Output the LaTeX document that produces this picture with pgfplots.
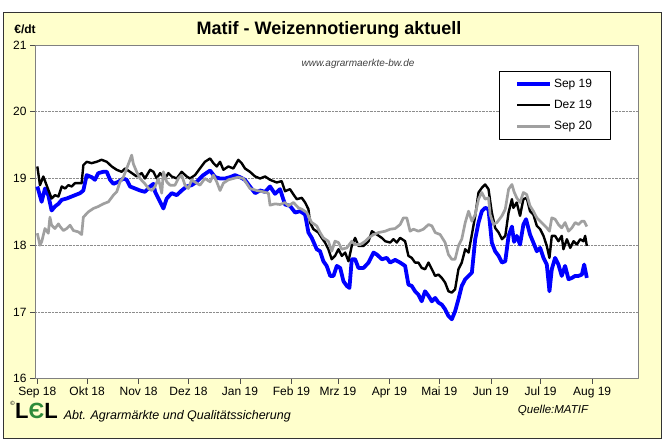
\documentclass[border=0pt]{standalone}
\usepackage{pgfplots}
\pgfplotsset{compat=1.18}
\usepackage{fontspec}
\setmainfont{Liberation Sans}
\definecolor{bgyellow}{HTML}{FFFFCC}
\definecolor{serblue}{HTML}{0000FF}
\definecolor{sergray}{HTML}{A0A0A0}
\definecolor{lelgreen}{HTML}{2E8B3A}

\begin{document}
\begin{tikzpicture}[x=1pt,y=1pt]
% page and chart frame
\fill[white] (-35,-50.3) rectangle (630,378.7);
\filldraw[fill=bgyellow, draw=black!80, line width=1pt] (-31,-60) rectangle (626,366);

\begin{axis}[
    at={(0,0)}, anchor=south west,
    scale only axis,
    width=603pt,
    height=333.7pt,
    xmin=-1.4, xmax=361.6,
    ymin=16, ymax=21,
    axis background/.style={fill=white},
    axis line style={black!50},
    xtick={0,30,61,91,122,153,181,212,242,273,303,334},
    xticklabels={Sep 18, Okt 18, Nov 18, Dez 18, Jan 19, Feb 19, Mrz 19,
        Apr 19, Mai 19, Jun 19, Jul 19, Aug 19},
    ytick={16,17,18,19,20,21},
    xtick pos=bottom, ytick pos=left,
    tick align=outside,
    major tick length=5pt,
    tick style={black!70, line width=0.6pt},
    ymajorgrids,
    grid style={densely dotted, black!45, line width=0.6pt},
    tick label style={font=\fontsize{12}{14}\selectfont},
    /pgf/number format/assume math mode=true,
    legend style={at={(0.7695,0.922)}, anchor=north west, draw=black, fill=white,
        font=\fontsize{12}{14}\selectfont, inner xsep=16pt, inner ysep=5pt,
        row sep=5pt, nodes={inner sep=2pt, text height=9pt, text depth=3pt}},
    legend cell align=left,
    legend image code/.code={\draw[#1] (0pt,0pt) -- (33pt,0pt);},
    line join=round,
]

% Sep 19
\addplot[color=serblue, line width=3.8pt] coordinates {
(0,18.88) (2.6,18.65) (4.6,18.85) (6.6,18.75) (8.6,18.52) (10.6,18.58)
(12.7,18.62) (14.7,18.68) (17.7,18.70) (19.7,18.72) (22.7,18.75) (25.7,18.78)
(27.7,18.82) (29.7,19.05) (32.7,19.02) (34.7,18.98) (36.7,19.08) (39.7,19.10)
(41.8,19.10) (43.8,18.98) (45.8,18.92) (48.8,18.95) (51.8,19.00) (53.8,18.98)
(55.8,18.88) (58.8,18.85) (61.8,18.82) (64.8,18.80) (67.9,18.88) (69.9,18.92)
(70.9,18.80) (73.9,18.65) (75.9,18.55) (77.9,18.70) (80.9,18.78) (83.9,18.75)
(86.9,18.82) (89.9,18.88) (92.9,18.90) (95.9,18.95) (99.9,19.05) (104.0,19.12)
(107.0,19.02) (110.0,19.00) (113.0,19.00) (116.0,19.02) (119.0,19.05) (122.0,19.02)
(125.0,18.98) (128.0,18.88) (131.1,18.78) (134.1,18.82) (137.1,18.80) (140.1,18.88)
(143.1,18.77) (146.1,18.84) (149.1,18.61) (152.1,18.59) (155.2,18.49) (158.2,18.51)
(161.2,18.46) (163.2,18.19) (165.2,18.11) (168.2,17.94) (170.2,17.91) (172.2,17.76)
(174.2,17.69) (176.3,17.54) (178.3,17.54) (180.3,17.69) (182.3,17.66) (184.3,17.46)
(186.3,17.39) (187.9,17.36) (189.3,17.79) (191.3,17.79) (193.3,17.66) (196.4,17.66)
(199.4,17.74) (202.4,17.89) (204.4,17.86) (207.4,17.79) (210.4,17.81) (212.4,17.74)
(215.4,17.78) (218.4,17.74) (221.4,17.69) (223.4,17.41) (225.4,17.39) (227.4,17.31)
(229.4,17.26) (231.4,17.16) (233.4,17.31) (235.5,17.24) (237.5,17.16) (239.5,17.21)
(241.5,17.14) (243.5,17.11) (245.5,17.04) (247.5,16.94) (249.5,16.89) (251.5,17.01)
(253.5,17.19) (255.5,17.39) (257.6,17.49) (259.6,17.54) (261.6,17.59) (263.6,18.09)
(265.6,18.34) (267.6,18.51) (269.6,18.56) (271.6,18.54) (273.6,18.04) (275.6,17.91)
(277.7,17.84) (279.7,17.74) (281.7,17.76) (283.7,18.14) (285.7,18.28) (287.0,18.05)
(288.6,18.14) (290.6,18.01) (292.6,18.31) (294.2,18.39) (296.6,18.16) (298.6,18.04)
(300.7,17.91) (302.7,17.96) (304.7,17.81) (306.7,17.71) (308.3,17.31) (309.7,17.64)
(311.7,17.81) (313.7,17.71) (315.7,17.54) (317.7,17.69) (319.8,17.49) (321.8,17.51)
(323.8,17.54) (325.8,17.54) (327.8,17.56) (329.2,17.71) (330.8,17.51)
};

% Dez 19
\addplot[color=black, line width=2.4pt] coordinates {
(0,19.18) (1.6,18.90) (3.6,19.03) (8.6,18.70) (10.6,18.75) (12.7,18.73)
(14.7,18.88) (16.7,18.85) (18.7,18.90) (20.7,18.88) (22.7,18.93) (26.7,18.93)
(27.7,19.20) (29.7,19.25) (32.7,19.23) (35.7,19.25) (38.7,19.28) (41.8,19.25)
(44.8,19.18) (47.8,19.13) (50.8,19.10) (52.8,19.15) (55.8,19.10) (59.8,19.03)
(62.8,19.08) (64.8,19.00) (67.9,19.13) (69.9,19.10) (71.9,19.00) (73.9,19.08)
(76.9,19.00) (78.9,19.08) (80.9,19.03) (83.9,19.00) (86.9,19.10) (89.9,19.03)
(91.9,19.00) (94.9,19.05) (97.9,19.15) (100.9,19.25) (104.0,19.30) (106.0,19.23)
(108.0,19.18) (110.0,19.25) (112.0,19.13) (115.0,19.18) (118.0,19.15) (121.0,19.28)
(123.0,19.23) (125.0,19.15) (128.0,19.10) (131.1,19.03) (134.1,19.00) (137.1,19.03)
(140.1,18.98) (144.1,18.94) (147.1,18.96) (149.1,18.81) (152.1,18.84) (154.2,18.76)
(156.2,18.69) (159.2,18.71) (161.2,18.64) (163.2,18.54) (164.2,18.34) (166.2,18.24)
(169.2,18.19) (171.2,18.11) (173.2,18.04) (175.2,17.94) (177.2,17.79) (179.2,17.84)
(181.3,17.94) (183.3,17.84) (185.3,17.89) (187.3,17.76) (189.3,17.99) (191.3,18.11)
(193.3,17.99) (196.4,17.99) (199.4,18.06) (201.4,18.21) (204.4,18.16) (207.4,18.11)
(209.4,18.06) (212.4,18.04) (214.4,18.09) (216.4,18.04) (218.4,18.11) (221.4,18.06)
(223.4,17.84) (225.4,17.81) (227.4,17.74) (229.4,17.74) (231.4,17.66) (233.4,17.64)
(235.5,17.74) (237.5,17.64) (239.5,17.54) (241.5,17.56) (243.5,17.51) (245.5,17.44)
(247.5,17.31) (249.5,17.29) (251.5,17.34) (253.5,17.64) (255.5,17.74) (257.6,17.94)
(259.6,17.89) (261.6,18.16) (263.6,18.44) (265.6,18.79) (267.6,18.86) (269.6,18.91)
(271.6,18.84) (273.6,18.49) (275.6,18.26) (277.7,18.19) (279.7,18.09) (281.7,18.14)
(283.7,18.49) (285.7,18.69) (286.6,18.56) (288.6,18.64) (290.6,18.44) (292.6,18.69)
(294.6,18.71) (296.6,18.51) (298.6,18.46) (300.7,18.29) (302.7,18.24) (304.7,18.14)
(306.7,17.99) (308.3,17.81) (309.7,18.14) (311.7,18.14) (313.7,18.06) (315.7,18.14)
(316.7,17.94) (318.8,18.09) (320.8,17.96) (322.8,18.06) (324.8,18.01) (326.8,18.09)
(328.8,18.06) (329.8,18.14) (330.8,17.99)
};

% Sep 20
\addplot[color=sergray, line width=2.7pt] coordinates {
(0,18.18) (1.6,18.00) (2.6,18.05) (4.6,18.25) (6.6,18.18) (7.6,18.42)
(8.6,18.30) (10.6,18.25) (12.7,18.32) (13.7,18.28) (15.7,18.22) (17.7,18.25)
(19.7,18.30) (21.7,18.22) (24.7,18.20) (26.7,18.16) (27.7,18.42) (30.7,18.50)
(33.7,18.55) (36.7,18.58) (39.7,18.62) (42.8,18.65) (45.8,18.75) (47.8,18.80)
(49.8,18.95) (51.8,19.02) (53.8,19.15) (55.8,19.28) (56.8,19.35) (57.8,19.22)
(59.8,19.10) (61.8,19.00) (64.8,18.92) (66.9,18.85) (68.9,18.82) (70.9,18.88)
(72.9,19.00) (74.9,18.78) (75.9,19.10) (77.9,18.95) (79.9,18.90) (82.9,18.90)
(84.9,19.00) (86.9,19.05) (88.9,18.90) (90.9,18.85) (92.9,18.98) (95.9,18.93)
(97.9,18.90) (100.9,19.00) (104.0,18.95) (106.0,19.05) (108.0,18.95) (110.0,18.82)
(112.0,18.93) (115.0,18.98) (118.0,19.00) (121.0,19.02) (124.0,19.00) (126.0,18.93)
(128.0,18.85) (132.1,18.82) (136.1,18.80) (139.1,18.78) (140.1,18.60) (143.1,18.62)
(146.1,18.61) (149.1,18.64) (151.1,18.59) (154.2,18.64) (157.2,18.56) (159.2,18.54)
(162.2,18.49) (165.2,18.34) (168.2,18.29) (170.2,18.19) (172.2,18.11) (175.2,18.06)
(177.2,17.91) (179.2,18.06) (181.3,18.04) (183.3,17.94) (186.3,17.96) (189.3,18.06)
(191.3,18.01) (194.4,18.01) (197.4,18.06) (199.4,18.11) (202.4,18.16) (205.4,18.19)
(209.4,18.21) (212.4,18.24) (215.4,18.25) (218.4,18.31) (220.4,18.41) (222.4,18.41)
(224.4,18.21) (226.4,18.24) (229.4,18.21) (232.4,18.24) (235.5,18.31) (237.5,18.29)
(239.5,18.19) (242.5,18.16) (245.5,18.04) (247.5,17.86) (249.5,17.79) (251.5,17.79)
(253.5,17.99) (255.5,18.09) (257.6,18.34) (259.6,18.51) (261.6,18.36) (263.6,18.46)
(265.6,18.69) (267.6,18.79) (269.6,18.69) (271.6,18.71) (272.6,18.46) (274.6,18.31)
(276.7,18.34) (279.7,18.44) (281.7,18.54) (283.7,18.84) (285.7,18.91) (287.0,18.80)
(288.6,18.71) (290.6,18.64) (292.6,18.79) (294.6,18.76) (296.6,18.59) (298.6,18.51)
(300.7,18.41) (302.7,18.36) (304.7,18.31) (306.7,18.26) (308.3,18.21) (309.7,18.41)
(311.7,18.39) (313.7,18.31) (315.7,18.26) (317.7,18.34) (319.8,18.21) (321.8,18.26)
(323.8,18.34) (325.8,18.31) (327.8,18.36) (329.2,18.36) (330.8,18.28)
};

\legend{Sep 19, Dez 19, Sep 20}
\end{axis}

% titles and notes
\node[font=\fontsize{18}{20}\selectfont\bfseries] at (294,349) {Matif - Weizennotierung aktuell};
\node[font=\fontsize{12}{14}\selectfont\bfseries] at (-10,349) {€/dt};
\node[font=\fontsize{10}{12}\selectfont\itshape, text=black!75] at (323,314.7) {www.agrarmaerkte-bw.de};
\node[font=\fontsize{11.5}{13}\selectfont\itshape] at (518,-31.3) {Quelle:MATIF};
\node[font=\fontsize{12.5}{14}\selectfont\itshape, anchor=west, inner sep=0pt] at (28.6,-38) {Abt. Agrarmärkte und Qualitätssicherung};
% LEL logo
\node[font=\fontsize{6}{7}\selectfont, inner sep=0pt] at (-22.3,-24.5) {©};
\node[font=\fontsize{22}{24}\selectfont\bfseries, anchor=base west, inner sep=0pt] at (-20,-39.5) {L\textcolor{lelgreen}{Є}L};
\end{tikzpicture}
\end{document}
